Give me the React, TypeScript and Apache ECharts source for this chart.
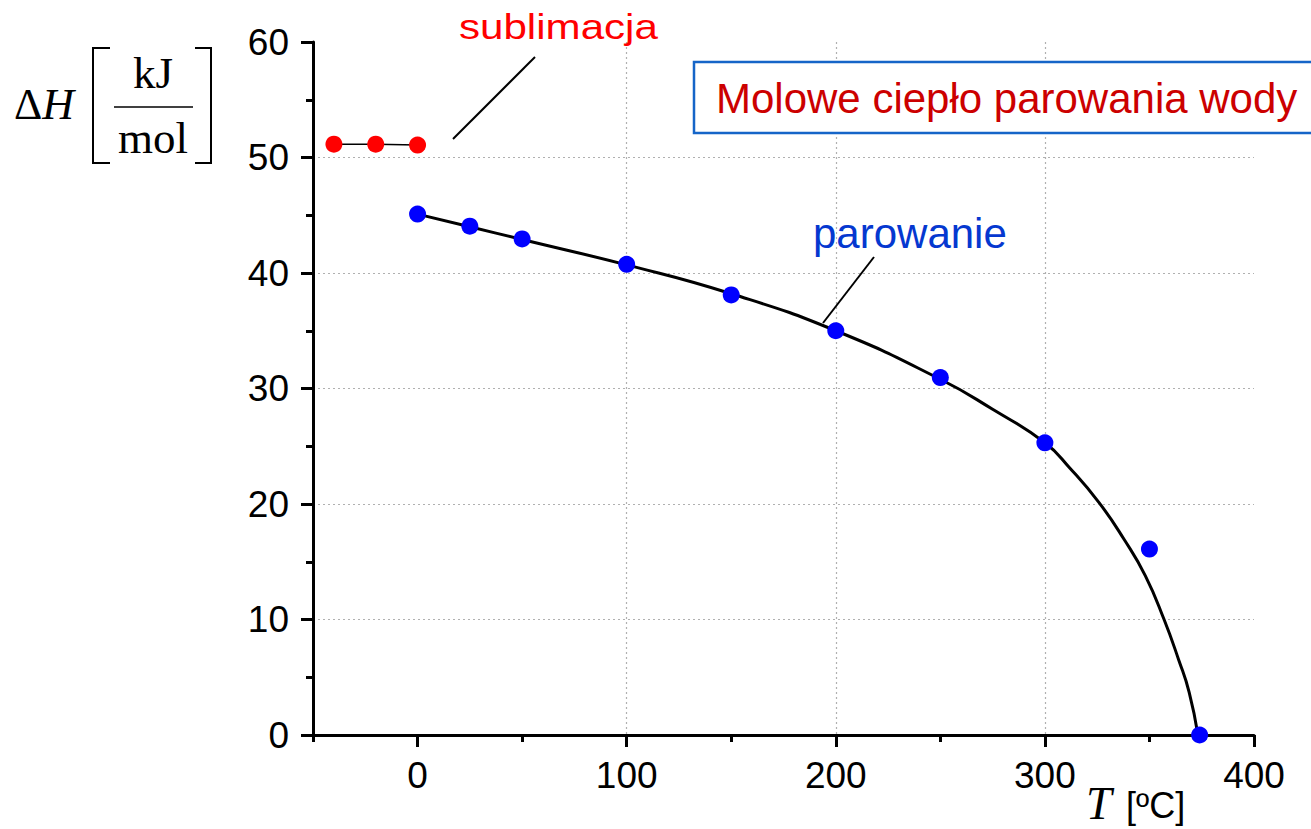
import React, { useEffect, useRef } from "react";
import * as echarts from "echarts";

// Sublimation (red)
const subT = [-40, -20, 0];
const subH = [51.15, 51.15, 51.08];
// Vaporization measured points (blue)
const vapT = [0, 25, 50, 100, 150, 200, 250, 300, 350, 374];
const vapH = [45.1, 44.05, 42.95, 40.75, 38.1, 35.0, 30.95, 25.3, 16.1, 0.0];
// Fitted curve (black)
const fitT = [0, 25, 50, 100, 150, 200, 250, 275, 300, 312, 326, 338, 348, 357, 364, 369, 373.2];
const fitH = [45.1, 44.0, 42.9, 40.7, 38.2, 35.0, 30.8, 28.2, 25.3, 23.1, 20.1, 16.9, 13.8, 10.0, 6.5, 3.7, 0];

const xMajorTicks = [0, 100, 200, 300, 400];
const xMinorTicks = [-50, 50, 150, 250, 350];

const titleText = "Molowe ciepło parowania wody";
const subLabel = "sublimacja";
const vapLabel = "parowanie";

const SANS = "'Liberation Sans', Arial, sans-serif";
const SERIF = "'Liberation Serif', 'Times New Roman', serif";

export default function App() {
  const ref = useRef<HTMLDivElement>(null);
  useEffect(() => {
    if (!ref.current) return;
    const chart = echarts.init(ref.current, undefined, { renderer: "svg" });
    const gridLine = { show: true, lineStyle: { color: "#b0b0b0", width: 1.2, type: [2, 3] as any } };
    chart.setOption({
      animation: false,
      backgroundColor: "#ffffff",
      grid: { left: 313, right: 57, top: 42, bottom: 94, containLabel: false },
      xAxis: [
        {
          type: "value",
          min: -50,
          max: 400,
          position: "bottom",
          axisLine: { show: true, onZero: false, lineStyle: { color: "#000", width: 3 } },
          axisTick: { show: true, customValues: xMajorTicks, length: 12, lineStyle: { color: "#000", width: 3 } },
          axisLabel: { customValues: xMajorTicks, color: "#000", fontSize: 37, fontFamily: SANS, margin: 22 },
          splitLine: { ...gridLine, showMinLine: false, showMaxLine: false },
        },
        {
          type: "value",
          min: -50,
          max: 400,
          position: "bottom",
          axisLine: { show: false },
          axisTick: { show: true, customValues: xMinorTicks, length: 7, lineStyle: { color: "#000", width: 3 } },
          axisLabel: { show: false },
          splitLine: { show: false },
        },
      ],
      yAxis: {
        type: "value",
        min: 0,
        max: 60,
        interval: 10,
        axisLine: { show: true, onZero: false, lineStyle: { color: "#000", width: 3 } },
        axisTick: { show: true, length: 12, lineStyle: { color: "#000", width: 3 } },
        minorTick: { show: true, splitNumber: 2, length: 7, lineStyle: { color: "#000", width: 3 } },
        axisLabel: { color: "#000", fontSize: 37, fontFamily: SANS, margin: 24 },
        splitLine: { ...gridLine, showMinLine: false, showMaxLine: false },
      },
      series: [
        {
          type: "line",
          name: "fit",
          data: fitT.map((t, i) => [t, fitH[i]]),
          smooth: 0.5,
          symbol: "none",
          lineStyle: { color: "#000", width: 3 },
          z: 2,
        },
        {
          type: "scatter",
          name: "parowanie",
          data: vapT.map((t, i) => [t, vapH[i]]),
          symbolSize: 17,
          itemStyle: { color: "#0000ff", opacity: 1 },
          z: 3,
        },
        {
          type: "line",
          name: "sublimacja",
          data: subT.map((t, i) => [t, subH[i]]),
          symbol: "circle",
          symbolSize: 17,
          showSymbol: true,
          itemStyle: { color: "#ff0000", opacity: 1 },
          lineStyle: { color: "#000", width: 1.5 },
          z: 4,
        },
      ],
      graphic: [
        // Title box
        {
          type: "rect",
          shape: { x: 694, y: 62, width: 700, height: 71 },
          style: { fill: "#fff", stroke: "#1565c8", lineWidth: 2.5 },
          z: 10,
        },
        {
          type: "text",
          x: 716,
          y: 98,
          style: { text: titleText, fill: "#cc0000", font: `42px ${SANS}`, textVerticalAlign: "middle" },
          z: 11,
        },
        // sublimacja label + leader
        {
          type: "text",
          x: 459,
          y: 27,
          scaleX: 1.17,
          style: { text: subLabel, fill: "#ff0000", font: `36px ${SANS}`, textVerticalAlign: "middle" },
          z: 11,
        },
        { type: "line", shape: { x1: 535, y1: 57, x2: 453, y2: 139 }, style: { stroke: "#000", lineWidth: 2 }, z: 11 },
        // parowanie label + leader
        {
          type: "text",
          x: 813,
          y: 233,
          style: { text: vapLabel, fill: "#0538d0", font: `42px ${SANS}`, textVerticalAlign: "middle" },
          z: 11,
        },
        { type: "line", shape: { x1: 874, y1: 257, x2: 823, y2: 323 }, style: { stroke: "#000", lineWidth: 2 }, z: 11 },
        // Y axis name: ΔH [kJ/mol]
        {
          type: "text",
          x: 14,
          y: 104,
          style: {
            text: "{d|Δ}{h|H}",
            textVerticalAlign: "middle",
            rich: {
              d: { font: `44px ${SERIF}`, fill: "#000" },
              h: { font: `italic 44px ${SERIF}`, fill: "#000" },
            },
          },
          z: 11,
        },
        {
          type: "polyline",
          shape: { points: [[110, 48], [93, 48], [93, 163], [110, 163]] },
          style: { stroke: "#000", lineWidth: 2, fill: "none" },
          z: 11,
        },
        {
          type: "polyline",
          shape: { points: [[195, 48], [211, 48], [211, 163], [195, 163]] },
          style: { stroke: "#000", lineWidth: 2, fill: "none" },
          z: 11,
        },
        { type: "line", shape: { x1: 114, y1: 107, x2: 193, y2: 107 }, style: { stroke: "#000", lineWidth: 1.5 }, z: 11 },
        {
          type: "text",
          x: 153,
          y: 73,
          style: { text: "kJ", fill: "#000", font: `45px ${SERIF}`, textAlign: "center", textVerticalAlign: "middle" },
          z: 11,
        },
        {
          type: "text",
          x: 153,
          y: 138,
          style: { text: "mol", fill: "#000", font: `45px ${SERIF}`, textAlign: "center", textVerticalAlign: "middle" },
          z: 11,
        },
        // X axis name: T [ºC]
        {
          type: "text",
          x: 1086,
          y: 803,
          style: { text: "T", fill: "#000", font: `italic 46px ${SERIF}`, textVerticalAlign: "middle" },
          z: 11,
        },
        {
          type: "text",
          x: 1126,
          y: 805,
          style: { text: "[ºC]", fill: "#000", font: `36px ${SANS}`, textVerticalAlign: "middle" },
          z: 11,
        },
      ],
    });
    return () => chart.dispose();
  }, []);
  return (
    <div
      ref={ref}
      style={{ position: "absolute", left: 0, top: 0, width: 1311, height: 829, background: "#fff" }}
    />
  );
}
